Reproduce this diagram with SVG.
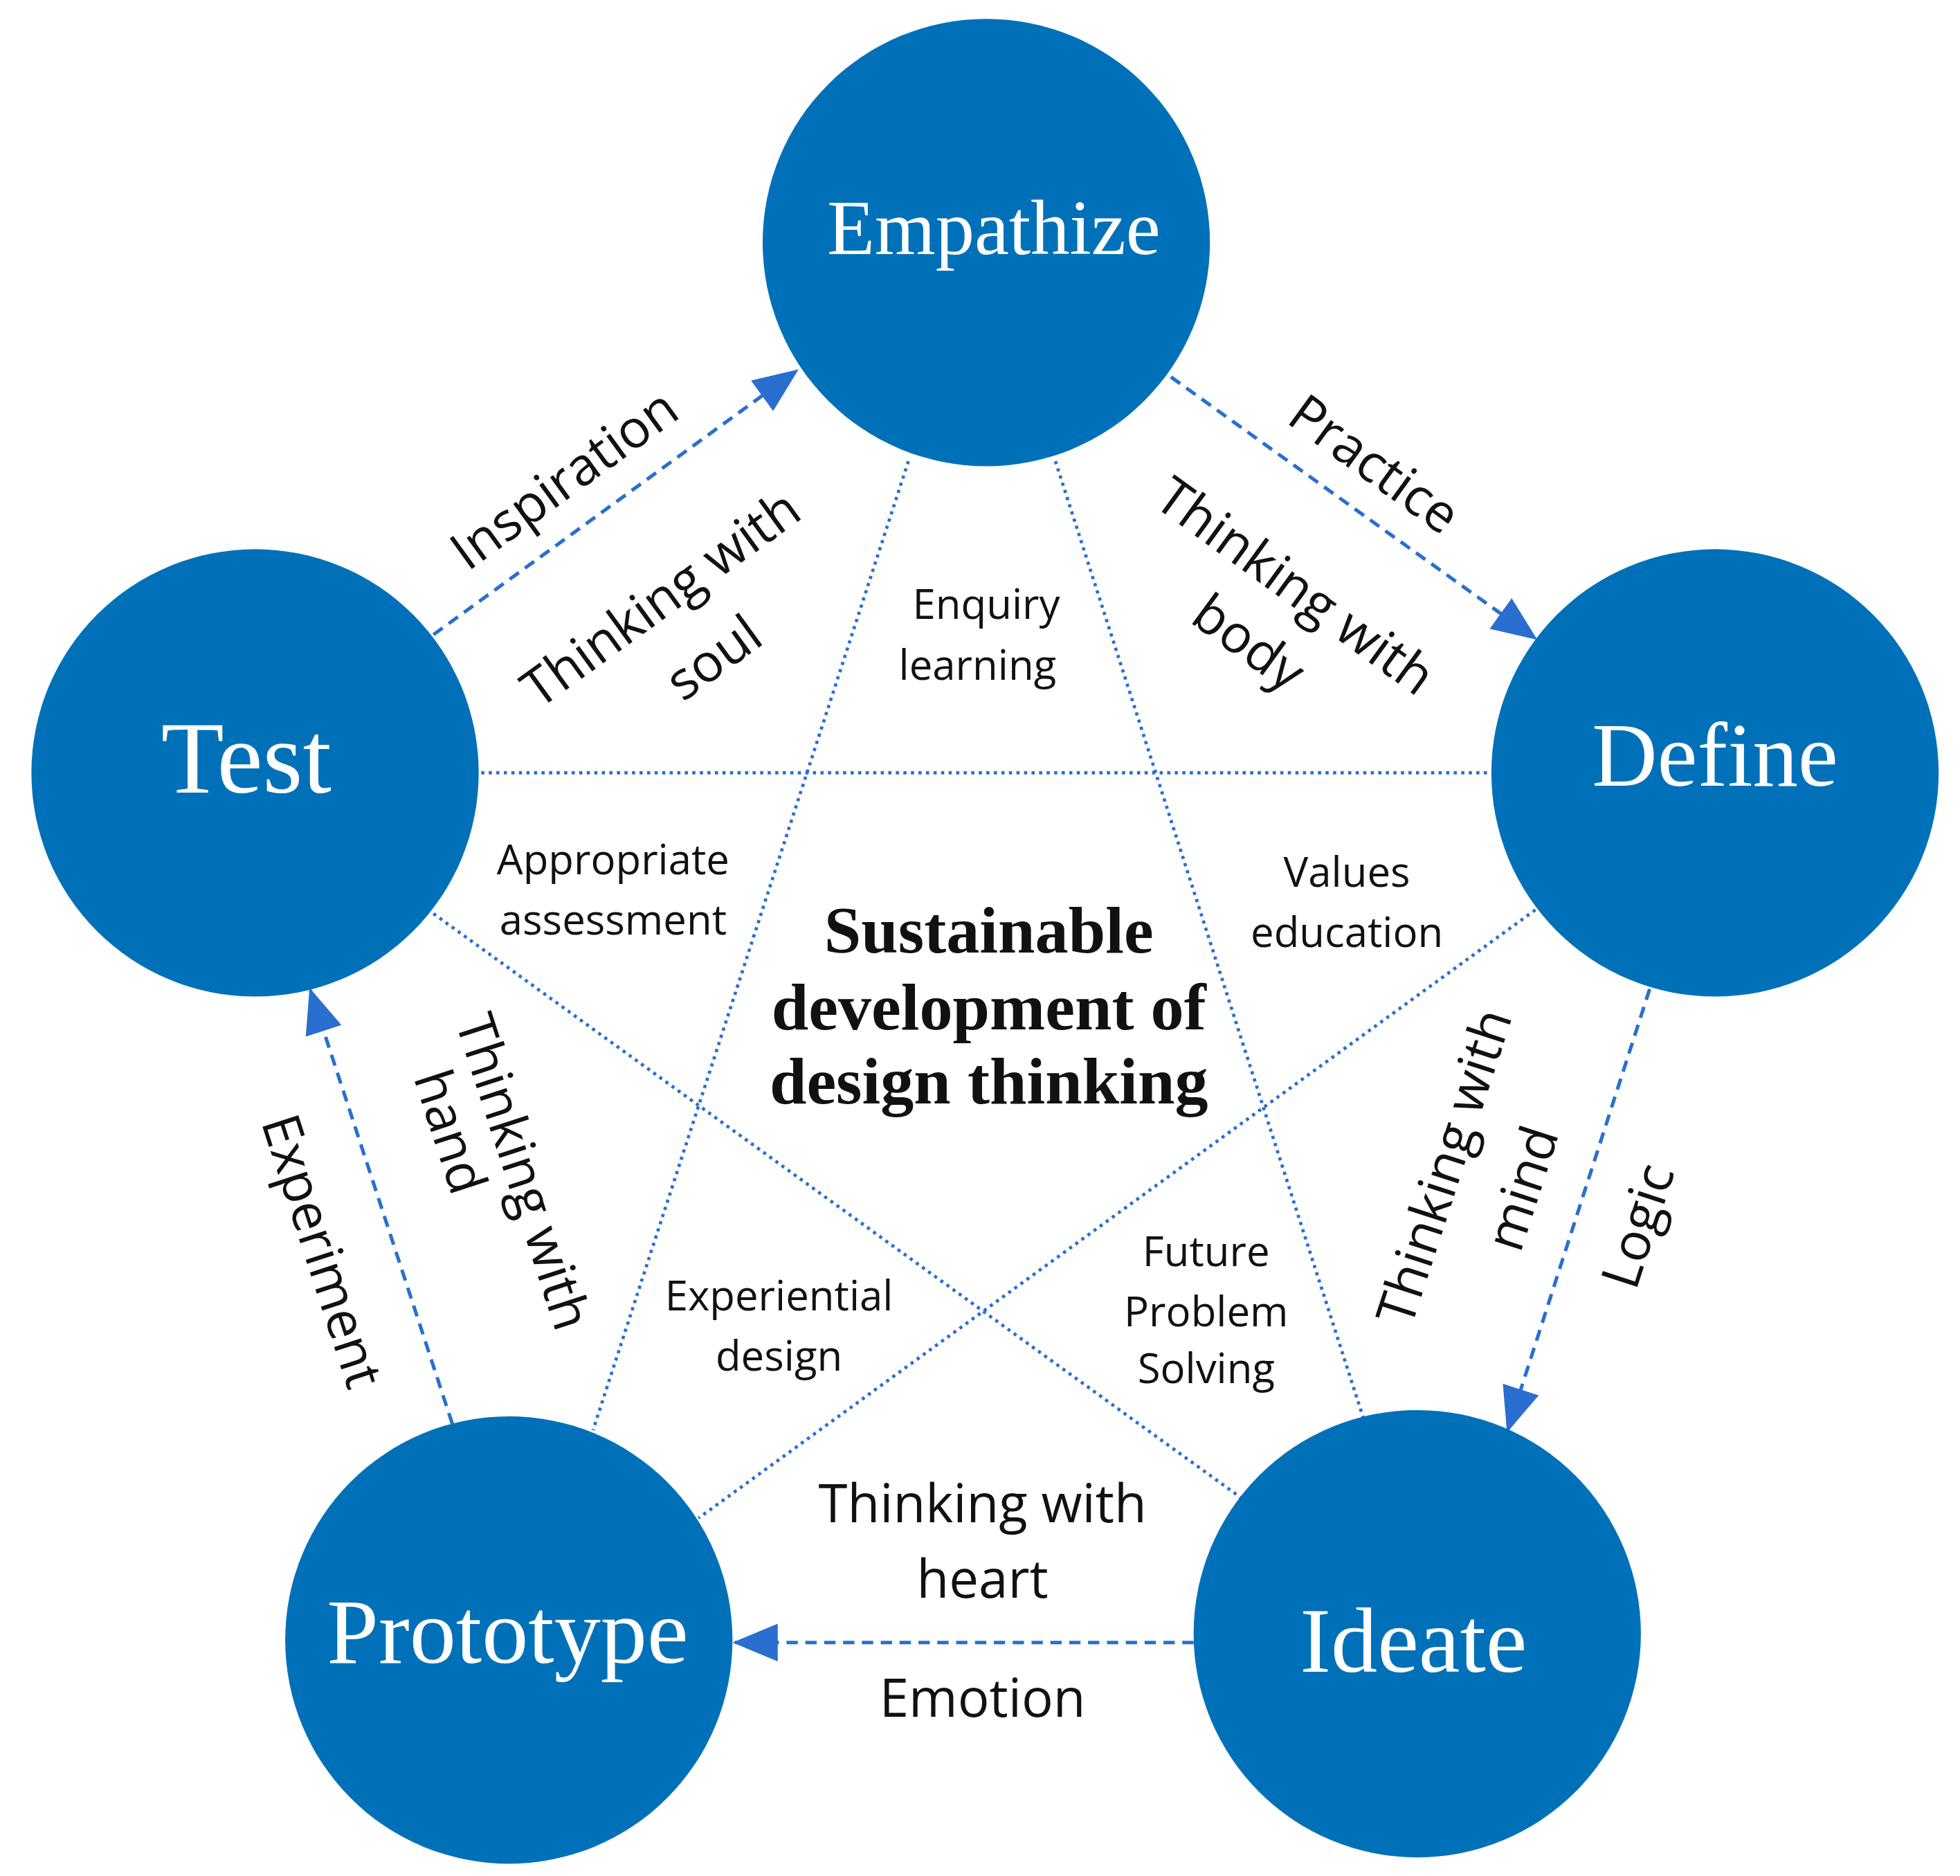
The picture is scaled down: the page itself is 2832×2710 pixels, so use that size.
<svg xmlns="http://www.w3.org/2000/svg" width="2832" height="2710" viewBox="0 0 2832 2710">
<style>
.n{fill:#0071b9}
.nt{font-family:"Liberation Serif",serif;fill:#fff;text-anchor:middle;dominant-baseline:central}
.dash{stroke:#2a6fcf;stroke-width:2.8;stroke-dasharray:9 6;fill:none}
.dot{stroke:#2a6fcf;stroke-width:2.6;stroke-dasharray:2.5 3.5;fill:none}
.l{font-family:"Open Sans","Noto Sans",sans-serif;font-size:42px;fill:#111;text-anchor:middle;dominant-baseline:central}
.s{font-family:"Open Sans","Noto Sans",sans-serif;font-size:33px;fill:#111;text-anchor:middle;dominant-baseline:central}
.c{font-family:"Liberation Serif",serif;font-weight:bold;font-size:53px;fill:#111;text-anchor:middle;dominant-baseline:central}
</style>
<defs>
<marker id="a" markerUnits="userSpaceOnUse" markerWidth="36" markerHeight="30" refX="34" refY="15" orient="auto">
<path d="M0,0 L36,15 L0,30 Z" fill="#2a6fcf"/>
</marker>
</defs>
<rect width="2832" height="2710" fill="#fff"/>
<g transform="scale(1.8154)">
<g id="connectors">
<line class="dash" x1="345" y1="505" x2="634" y2="295" marker-end="url(#a)"/>
<line class="dash" x1="932" y1="300" x2="1222" y2="508" marker-end="url(#a)"/>
<line class="dash" x1="1313" y1="787" x2="1200" y2="1138" marker-end="url(#a)"/>
<line class="dash" x1="950" y1="1307" x2="585" y2="1307" marker-end="url(#a)"/>
<line class="dash" x1="360" y1="1133" x2="247" y2="788" marker-end="url(#a)"/>
<line class="dot" x1="383" y1="615" x2="1188" y2="615"/>
<line class="dot" x1="723" y1="367" x2="472" y2="1138"/>
<line class="dot" x1="840" y1="367" x2="1085" y2="1128"/>
<line class="dot" x1="345" y1="727" x2="988" y2="1192"/>
<line class="dot" x1="1222" y1="724" x2="556" y2="1208"/>
</g>
<g id="empathize"><circle class="n" cx="785" cy="193" r="178"/><text class="nt" x="791" y="181" font-size="62">Empathize</text></g>
<g id="define"><circle class="n" cx="1365" cy="615" r="178"/><text class="nt" x="1365" y="601" font-size="72">Define</text></g>
<g id="ideate"><circle class="n" cx="1128" cy="1300" r="178"/><text class="nt" x="1125" y="1305" font-size="74">Ideate</text></g>
<g id="prototype"><circle class="n" cx="405" cy="1305" r="178"/><text class="nt" x="404" y="1298" font-size="74">Prototype</text></g>
<g id="test"><circle class="n" cx="203" cy="615" r="178"/><text class="nt" x="196" y="603" font-size="82">Test</text></g>
<g id="labels">
<text class="l" transform="translate(448,380) rotate(-36)">Inspiration</text>
<text class="l" transform="translate(525,475) rotate(-36)">Thinking with</text>
<text class="l" transform="translate(567,522) rotate(-36)">soul</text>
<text class="l" transform="translate(1095,368) rotate(36)">Practice</text>
<text class="l" transform="translate(1032,465) rotate(36)">Thinking with</text>
<text class="l" transform="translate(995,510) rotate(36)">body</text>
<text class="l" transform="translate(1302,975) rotate(-72)">Logic</text>
<text class="l" transform="translate(1148,928) rotate(-72)">Thinking with</text>
<text class="l" transform="translate(1210,945) rotate(-72)">mind</text>
<text class="l" x="782" y="1195">Thinking with</text>
<text class="l" x="782" y="1255">heart</text>
<text class="l" x="782" y="1350">Emotion</text>
<text class="l" transform="translate(258,995) rotate(72)">Experiment</text>
<text class="l" transform="translate(418,932) rotate(72)">Thinking with</text>
<text class="l" transform="translate(360,900) rotate(72)">hand</text>
<text class="s" x="785" y="480">Enquiry</text>
<text class="s" x="778" y="528">learning</text>
<text class="s" x="488" y="683">Appropriate</text>
<text class="s" x="488" y="731">assessment</text>
<text class="s" x="1072" y="693">Values</text>
<text class="s" x="1072" y="741">education</text>
<text class="s" x="620" y="1030">Experiential</text>
<text class="s" x="620" y="1078">design</text>
<text class="s" x="960" y="995">Future</text>
<text class="s" x="960" y="1043">Problem</text>
<text class="s" x="960" y="1088">Solving</text>
<text class="c" x="787" y="740">Sustainable</text>
<text class="c" x="787" y="801">development of</text>
<text class="c" x="787" y="860">design thinking</text>
</g>
</g>
</svg>
